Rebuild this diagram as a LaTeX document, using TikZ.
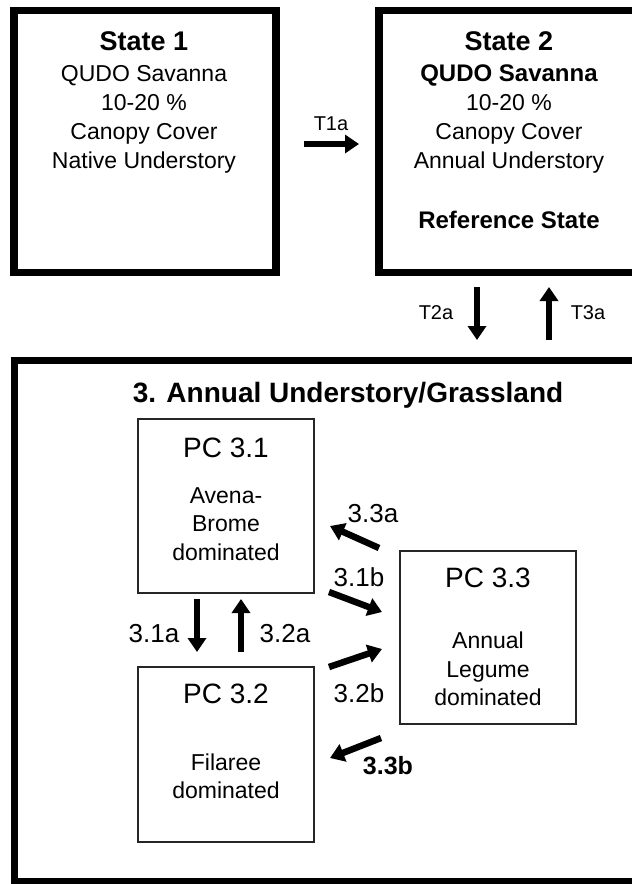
\documentclass[tikz,border=0pt]{standalone}
\usepackage{fontspec}
\setmainfont{Liberation Sans}
\usetikzlibrary{arrows.meta}
\begin{document}
\begin{tikzpicture}[x=1pt,y=-1pt,
  boxbase/.style={inner sep=0pt, outer sep=0pt},
  statebox/.style={boxbase, draw, line width=7.5pt},
  bigbox/.style={boxbase, draw, line width=7pt},
  pcbox/.style={boxbase, draw=black!85, line width=1.3pt},
  txt/.style={anchor=base, inner sep=0pt, font=\fontsize{23}{27}\selectfont},
  titletxt/.style={txt, font=\fontsize{27}{32}\selectfont\bfseries},
  boldtxt/.style={txt, font=\fontsize{24}{28}\selectfont\bfseries},
  bigtitle/.style={txt, font=\fontsize{28}{33}\selectfont\bfseries},
  pctxt/.style={txt, font=\fontsize{28}{33}\selectfont},
  tlabel/.style={txt, font=\fontsize{20}{24}\selectfont},
  alabel/.style={txt, font=\fontsize{26}{30}\selectfont},
  blabel/.style={txt, font=\fontsize{25}{30}\selectfont\bfseries},
  bigarrow/.style={line width=6.5pt, -{Triangle[width=18pt,length=14pt]}},
]
\clip (0,0) rectangle (632,884);
\fill[white] (0,0) rectangle (632,884);

% state boxes
\node[statebox, minimum width=262pt, minimum height=262pt] (s1) at (145,141.5) {};
\node[statebox, minimum width=271pt, minimum height=262pt] (s2) at (514.5,141.5) {};
\node[bigbox, minimum width=635.5pt, minimum height=521pt] (big) at (332.25,620.5) {};

% state 1 text
\node[titletxt] (s1t) at (144,50) {State 1};
\node[txt] (s1l1) at (144,81) {QUDO Savanna};
\node[txt] (s1l2) at (144,110) {10-20 \%};
\node[txt] (s1l3) at (144,139) {Canopy Cover};
\node[txt] (s1l4) at (144,168) {Native Understory};

% state 2 text
\node[titletxt] (s2t) at (509,50) {State 2};
\node[boldtxt] (s2l1) at (509,81) {QUDO Savanna};
\node[txt] (s2l2) at (509,110) {10-20 \%};
\node[txt] (s2l3) at (509,139) {Canopy Cover};
\node[txt] (s2l4) at (509,168) {Annual Understory};
\node[boldtxt] (s2l5) at (509,228) {Reference State};

% transitions between states
\coordinate (t1s) at (304,144);
\coordinate (t1e) at (359,144);
\draw[bigarrow] (t1s) -- (t1e);
\node[tlabel] (t1a) at (331,130) {T1a};

\coordinate (t2s) at (477,287);
\coordinate (t2e) at (477,340);
\draw[bigarrow] (t2s) -- (t2e);
\node[tlabel] (t2a) at (436,319) {T2a};

\coordinate (t3s) at (549,340);
\coordinate (t3e) at (549,287);
\draw[bigarrow] (t3s) -- (t3e);
\node[tlabel] (t3a) at (588,319) {T3a};

% state 3
\node[bigtitle] (s3t) at (348,402) {3. Annual Understory/Grassland};

\node[pcbox, minimum width=176pt, minimum height=174pt] (pc31) at (226,506) {};
\node[pcbox, minimum width=176pt, minimum height=173pt] (pc33) at (488,637.5) {};
\node[pcbox, minimum width=176pt, minimum height=175pt] (pc32) at (226,754.5) {};

\node[pctxt] (pc31t) at (226,457) {PC 3.1};
\node[txt] (pc31a) at (226,503) {Avena-};
\node[txt] (pc31b) at (226,531) {Brome};
\node[txt] (pc31c) at (226,560) {dominated};

\node[pctxt] (pc33t) at (488,587) {PC 3.3};
\node[txt] (pc33a) at (488,648) {Annual};
\node[txt] (pc33b) at (488,677) {Legume};
\node[txt] (pc33c) at (488,705) {dominated};

\node[pctxt] (pc32t) at (226,703) {PC 3.2};
\node[txt] (pc32a) at (226,770) {Filaree};
\node[txt] (pc32b) at (226,798) {dominated};

% community pathways
\coordinate (p31as) at (197,599);
\coordinate (p31ae) at (197,652);
\draw[bigarrow] (p31as) -- (p31ae);
\node[alabel] (l31a) at (154,642) {3.1a};

\coordinate (p32as) at (241,652);
\coordinate (p32ae) at (241,599);
\draw[bigarrow] (p32as) -- (p32ae);
\node[alabel] (l32a) at (285,642) {3.2a};

\coordinate (p33as) at (379,548);
\coordinate (p33ae) at (330,526);
\draw[bigarrow] (p33as) -- (p33ae);
\node[alabel] (l33a) at (373,522) {3.3a};

\coordinate (p31bs) at (329,592);
\coordinate (p31be) at (382,612);
\draw[bigarrow] (p31bs) -- (p31be);
\node[alabel] (l31b) at (359,586) {3.1b};

\coordinate (p32bs) at (329,667);
\coordinate (p32be) at (382,649);
\draw[bigarrow] (p32bs) -- (p32be);
\node[alabel] (l32b) at (359,702) {3.2b};

\coordinate (p33bs) at (381,738);
\coordinate (p33be) at (330,758);
\draw[bigarrow] (p33bs) -- (p33be);
\node[blabel] (l33b) at (388,774) {3.3b};
\end{tikzpicture}
\end{document}
